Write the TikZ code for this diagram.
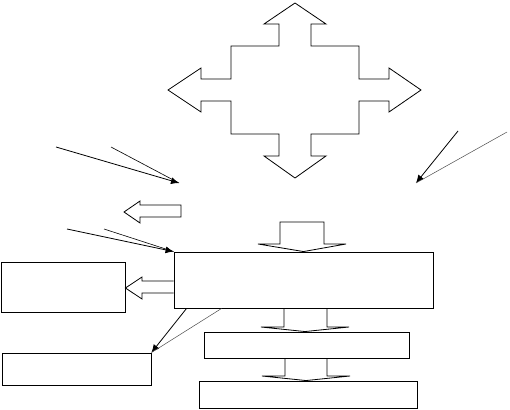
\documentclass[tikz,border=0pt]{standalone}
\usepackage{tikz}
\usetikzlibrary{arrows.meta,positioning,calc}

\begin{document}
\begin{tikzpicture}[x=1pt,y=-1pt,>={Latex[length=8pt,width=7pt]},line width=0.8pt]
  \tikzset{box/.style={draw,inner sep=0pt,line width=0.9pt},
    blockarrow/.style={draw,line width=0.8pt,line join=miter},
    pointer/.style={->,line width=0.8pt},
    thinpointer/.style={line width=0.5pt,draw=black!70}}
  \useasboundingbox (0,0) rectangle (510,409);
  % boxes
  \node[box,minimum width=259pt,minimum height=56pt] (main) at (303.5,280) {};
  \node[box,minimum width=124pt,minimum height=50pt] (left) at (63,287) {};
  \node[box,minimum width=149pt,minimum height=32pt] (lower) at (76.5,369) {};
  \node[box,minimum width=205pt,minimum height=26pt] (middle) at (306.5,345) {};
  \node[box,minimum width=218pt,minimum height=27pt] (bottom) at (308,394.5) {};
  % cross arrow
  \draw[blockarrow] (295,3)--(326,24)--(311,24)--(311,46)--(359,46)--(359,79)--(389,79)--(389,68)
    --(421,90)--(389,112)--(389,101)--(359,101)--(359,134)--(311,134)--(311,156)--(326,156)
    --(295,178)--(264,156)--(279,156)--(279,134)--(231,134)--(231,101)--(201,101)--(201,112)
    --(168,90)--(201,68)--(201,79)--(231,79)--(231,46)--(279,46)--(279,24)--(264,24)--cycle;
  % block arrows
  \draw[blockarrow] (181,205)--(140,205)--(140,201)--(124,212)--(140,223)--(140,217)--(181,217)--cycle;
  \draw[blockarrow] (280,244)--(280,222)--(324,222)--(324,244)--(346,244)--(main.north)--(258,244)--cycle;
  \draw[blockarrow] (main.west |- 0,281)--(142,281)--(142,277)--(left.east |- 0,288)--(142,299)--(142,293)--(main.west |- 0,293);
  \draw[blockarrow] (main.south -| 284,0)--(284,327)--(261,327)--(middle.north -| 305,0)--(349,327)--(327,327)--(main.south -| 327,0);
  \draw[blockarrow] (middle.south -| 285,0)--(285,376)--(262,376)--(bottom.north -| 306,0)--(350,376)--(327,376)--(middle.south -| 327,0);
  % pointers
  \coordinate (aim1) at (179,183);
  \coordinate (aim2) at (416,183);
  \coordinate (from1) at (56,147);
  \coordinate (from2) at (111,147);
  \coordinate (from3) at (67,229);
  \coordinate (from4) at (104,229);
  \coordinate (from5) at (458,131);
  \coordinate (from6) at (507,132);
  \draw[pointer] (from1) -- (aim1);
  \draw[line width=0.6pt] (from2) -- (aim1);
  \draw[pointer] (from3) -- (main.north west);
  \draw[line width=0.6pt] (from4) -- (main.north west);
  \draw[pointer] (from5) -- (aim2);
  \draw[thinpointer] (from6) -- (aim2);
  \draw[pointer] ($(main.south west)+(13,0)$) -- (lower.north east);
  \draw[thinpointer] ($(main.south west)+(48,0)$) -- (lower.north east);
\end{tikzpicture}
\end{document}
